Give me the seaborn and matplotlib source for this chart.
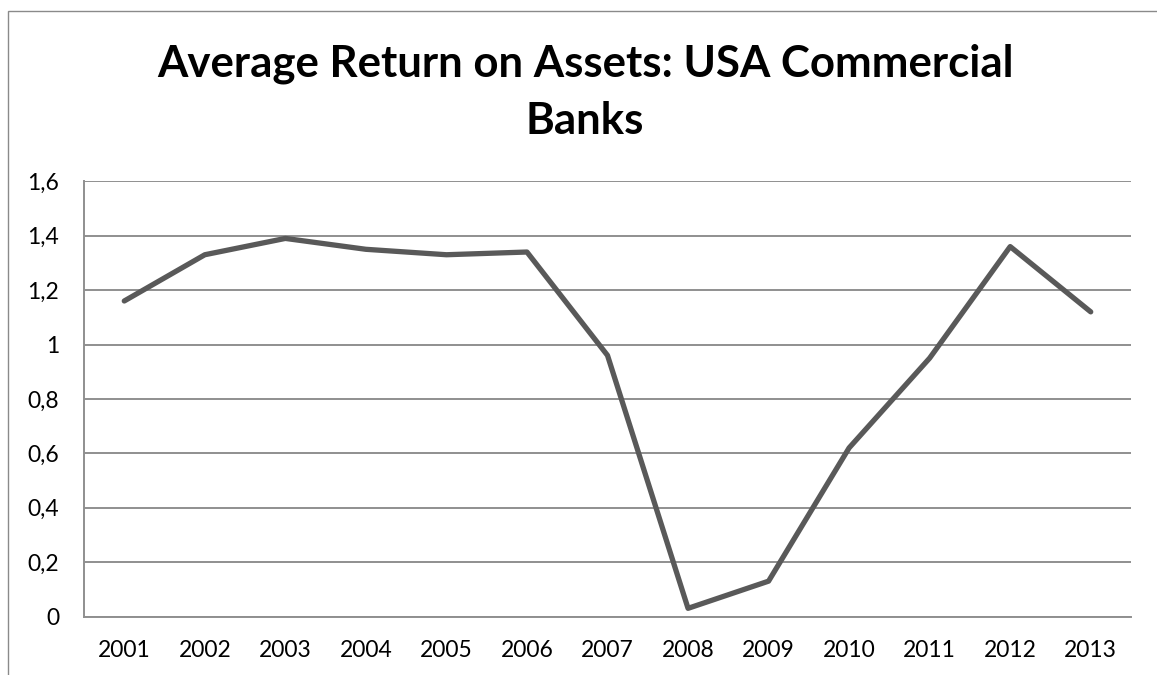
import matplotlib
matplotlib.use("Agg")
import matplotlib.pyplot as plt
import seaborn as sns
import pandas as pd
from matplotlib.patches import Rectangle
from matplotlib.ticker import FuncFormatter

# Average return on assets, US commercial banks (%)
years = ["2001", "2002", "2003", "2004", "2005", "2006", "2007",
         "2008", "2009", "2010", "2011", "2012", "2013"]
roa = [1.16, 1.33, 1.39, 1.35, 1.33, 1.34, 0.96,
       0.03, 0.13, 0.62, 0.95, 1.36, 1.12]
y_ticks = [0, 0.2, 0.4, 0.6, 0.8, 1.0, 1.2, 1.4, 1.6]

title_lines = ["Average Return on Assets: USA Commercial", "Banks"]

sns.set_theme(style="white")
plt.rcParams["font.family"] = ["Lato", "DejaVu Sans"]

W, H, DPI = 1157, 675, 100
fig = plt.figure(figsize=(W / DPI, H / DPI), dpi=DPI)
fig.patch.set_facecolor("white")

# plot area in pixel coordinates
left, right, top, bottom = 84, 1131, 181.3, 616.5
ax = fig.add_axes([left / W, 1 - bottom / H, (right - left) / W, (bottom - top) / H])

df = pd.DataFrame({"year": years, "roa": roa})
sns.lineplot(data=df, x="year", y="roa", ax=ax, color="#595959",
             linewidth=3.8, sort=False)
for ln in ax.lines:
    ln.set_solid_capstyle("round")
    ln.set_solid_joinstyle("round")

ax.set_xlim(-0.5, len(years) - 0.5)
ax.set_ylim(0, 1.6)
ax.set_yticks(y_ticks)
ax.yaxis.set_major_formatter(
    FuncFormatter(lambda v, _: ("%g" % round(v, 1)).replace(".", ",")))
ax.set_xlabel("")
ax.set_ylabel("")

grid_col = "#8f8f8f"
ax.grid(axis="y", color=grid_col, linewidth=1.4)
ax.grid(axis="x", visible=False)
ax.set_axisbelow(True)
for side in ("top", "right"):
    ax.spines[side].set_visible(False)
for side in ("left", "bottom"):
    ax.spines[side].set_visible(True)
    ax.spines[side].set_color(grid_col)
    ax.spines[side].set_linewidth(1.4)

ax.tick_params(axis="both", length=0, labelsize=16.5, colors="black")
ax.tick_params(axis="y", pad=18)
ax.tick_params(axis="x", pad=17)

# outer chart frame
fig.patches.append(Rectangle((8 / W, -0.1), 1.2, 1 - 11 / H + 0.1,
                             transform=fig.transFigure, fill=False,
                             edgecolor="#8a8a8a", linewidth=1.0))

# two-line bold title, sized so the first line spans 857 px
probe = fig.text(0, 0, title_lines[0], fontsize=30, fontweight="bold")
fig.canvas.draw()
w = probe.get_window_extent(fig.canvas.get_renderer()).width
probe.remove()
title_size = 30 * 857 / w
for line, base_px in zip(title_lines, (77, 134)):
    fig.text(585 / W, 1 - base_px / H, line, ha="center", va="baseline",
             fontsize=title_size, fontweight="bold", color="black")

fig.savefig("out.png", dpi=DPI, facecolor="white")
